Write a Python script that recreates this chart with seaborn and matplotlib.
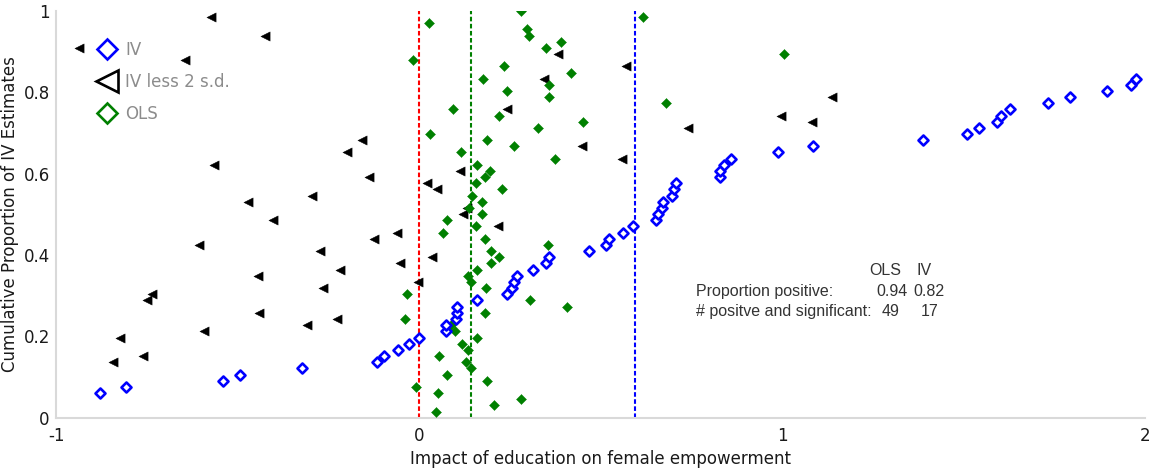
import matplotlib
matplotlib.use("Agg")
import matplotlib.pyplot as plt
from matplotlib.lines import Line2D
import pandas as pd
import seaborn as sns

# IV point estimates and their cumulative proportion
iv_x = [-0.878, -0.806, -0.539, -0.493, -0.323, -0.116, -0.096, -0.057, -0.029, 0.000,
        0.073, 0.073, 0.101, 0.105, 0.105, 0.161, 0.243, 0.257, 0.261, 0.271,
        0.315, 0.349, 0.358, 0.469, 0.515, 0.524, 0.562, 0.590, 0.654, 0.657,
        0.668, 0.673, 0.698, 0.702, 0.707, 0.829, 0.830, 0.840, 0.859, 0.989,
        1.084, 1.388, 1.510, 1.542, 1.592, 1.604, 1.627, 1.734, 1.794, 1.896,
        1.962, 1.974]
iv_y = [0.061, 0.076, 0.091, 0.106, 0.121, 0.136, 0.152, 0.167, 0.182, 0.197,
        0.212, 0.227, 0.242, 0.258, 0.273, 0.288, 0.303, 0.318, 0.333, 0.348,
        0.364, 0.379, 0.394, 0.409, 0.424, 0.439, 0.455, 0.470, 0.485, 0.500,
        0.515, 0.530, 0.545, 0.561, 0.576, 0.591, 0.606, 0.621, 0.636, 0.652,
        0.667, 0.682, 0.697, 0.712, 0.727, 0.742, 0.758, 0.773, 0.788, 0.803,
        0.818, 0.833]

# IV estimate minus two standard deviations
lo_x = [-0.843, -0.761, -0.823, -0.592, -0.309, -0.225, -0.440, -0.750, -0.736, -0.265,
        -0.004, -0.445, -0.219, -0.052, 0.037, -0.274, -0.605, -0.123, -0.061, 0.217,
        -0.403, 0.122, 0.133, -0.470, -0.294, 0.049, 0.021, -0.137, 0.113, -0.566,
        0.558, -0.199, 0.450, -0.158, 0.741, 1.083, 0.998, 0.241, 1.139, 0.345,
        0.569, -0.644, 0.382, -0.938, -0.424, -0.573]
lo_y = [0.136, 0.152, 0.197, 0.212, 0.227, 0.242, 0.258, 0.288, 0.303, 0.318,
        0.333, 0.348, 0.364, 0.379, 0.394, 0.409, 0.424, 0.439, 0.455, 0.470,
        0.485, 0.500, 0.515, 0.530, 0.545, 0.561, 0.576, 0.591, 0.606, 0.621,
        0.636, 0.652, 0.667, 0.682, 0.712, 0.727, 0.742, 0.758, 0.788, 0.833,
        0.864, 0.879, 0.894, 0.909, 0.939, 0.985]

# OLS estimates for the same studies
ols_x = [0.048, 0.207, 0.282, 0.053, -0.008, 0.188, 0.078, 0.143, 0.129, 0.056,
         0.134, 0.117, 0.161, 0.099, 0.087, -0.039, 0.183, 0.407, 0.306, -0.032,
         0.184, 0.143, 0.136, 0.161, 0.198, 0.221, 0.197, 0.354, 0.183, 0.067,
         0.156, 0.077, 0.174, 0.138, 0.173, 0.145, 0.229, 0.156, 0.183, 0.195,
         0.161, 0.375, 0.116, 0.262, 0.188, 0.031, 0.328, 0.452, 0.220, 0.094,
         0.681, 0.357, 0.242, 0.358, 0.177, 0.418, 0.233, -0.017, 1.006, 0.349,
         0.392, 0.304, 0.297, 0.028, 0.616, 0.281]
ols_y = [0.015, 0.030, 0.045, 0.061, 0.076, 0.091, 0.106, 0.121, 0.136, 0.152,
         0.167, 0.182, 0.197, 0.212, 0.227, 0.242, 0.258, 0.273, 0.288, 0.303,
         0.318, 0.333, 0.348, 0.364, 0.379, 0.394, 0.409, 0.424, 0.439, 0.455,
         0.470, 0.485, 0.500, 0.515, 0.530, 0.545, 0.561, 0.576, 0.591, 0.606,
         0.621, 0.636, 0.652, 0.667, 0.682, 0.697, 0.712, 0.727, 0.742, 0.758,
         0.773, 0.788, 0.803, 0.818, 0.833, 0.848, 0.864, 0.879, 0.894, 0.909,
         0.924, 0.939, 0.955, 0.970, 0.985, 1.000]

# reference lines: zero, typical OLS and typical IV estimate
zero_line = 0.0
ols_center = 0.143
iv_center = 0.596

x_ticks = [-1, 0, 1, 2]
y_ticks = [0, 0.2, 0.4, 0.6, 0.8, 1]
y_tick_labels = ["0", "0.2", "0.4", "0.6", "0.8", "1"]

summary_cols = ["OLS", "IV"]
prop_positive = ["0.94", "0.82"]
n_pos_sig = ["49", "17"]

BLUE = "#0000ff"
GREEN = "#008000"
GREY_AXIS = "#d9d9d9"

sns.set_theme(style="white")
plt.rcParams["font.family"] = ["DejaVu Sans"]

fig = plt.figure(figsize=(11.51, 4.68), dpi=100)
ax = fig.add_axes([0.0487, 0.1075, 0.9461, 0.8695])

iv_df = pd.DataFrame({"x": iv_x, "y": iv_y})
lo_df = pd.DataFrame({"x": lo_x, "y": lo_y})
ols_df = pd.DataFrame({"x": ols_x, "y": ols_y})

for xv, col in [(zero_line, "#ff0000"), (ols_center, GREEN), (iv_center, BLUE)]:
    ax.axvline(xv, color=col, lw=1.5, ls=(0, (2.2, 1.2)), zorder=1)

sns.scatterplot(data=lo_df, x="x", y="y", ax=ax, marker="<", s=44,
                color="black", edgecolor="black", linewidth=0.3, zorder=3)
sns.scatterplot(data=ols_df, x="x", y="y", ax=ax, marker="D", s=26,
                color=GREEN, edgecolor=GREEN, linewidth=0.3, zorder=4)
sns.scatterplot(data=iv_df, x="x", y="y", ax=ax, marker="D", s=26,
                facecolor="white", edgecolor=BLUE, linewidth=1.9, zorder=5)

ax.set_xlim(-1, 2)
ax.set_ylim(0, 1)
ax.set_xticks(x_ticks)
ax.set_xticklabels([str(t) for t in x_ticks])
ax.set_yticks(y_ticks)
ax.set_yticklabels(y_tick_labels)

for side in ["top", "right"]:
    ax.spines[side].set_visible(False)
for side in ["left", "bottom"]:
    ax.spines[side].set_color(GREY_AXIS)
    ax.spines[side].set_linewidth(1.5)
ax.tick_params(axis="both", which="both", direction="out", length=3.5, width=1,
               color=GREY_AXIS, labelsize=12, labelcolor="#1a1a1a", pad=1)
ax.tick_params(axis="x", pad=3)

ax.set_xlabel("Impact of education on female empowerment", fontsize=12,
              color="#1a1a1a", labelpad=4)
ax.set_ylabel("Cumulative Proportion of IV Estimates", fontsize=12,
              color="#1a1a1a", labelpad=3)

# summary table in the right half
tfont = dict(family="Liberation Sans", fontsize=11.5, color="#333333", va="center")
ax.text(1.239, 0.361, summary_cols[0], ha="left", **tfont)
ax.text(1.371, 0.361, summary_cols[1], ha="left", **tfont)
ax.text(0.762, 0.310, "Proportion positive:", ha="left", **tfont)
ax.text(1.260, 0.310, prop_positive[0], ha="left", **tfont)
ax.text(1.3625, 0.310, prop_positive[1], ha="left", **tfont)
ax.text(0.762, 0.262, "# positve and significant:", ha="left", **tfont)
ax.text(1.274, 0.262, n_pos_sig[0], ha="left", **tfont)
ax.text(1.382, 0.262, n_pos_sig[1], ha="left", **tfont)

handles = [
    Line2D([], [], ls="none", marker="D", ms=10.5, mfc="none", mec=BLUE, mew=1.9),
    Line2D([], [], ls="none", marker="<", ms=16, mfc="none", mec="black", mew=1.9),
    Line2D([], [], ls="none", marker="D", ms=10.5, mfc="none", mec=GREEN, mew=1.9),
]
leg = ax.legend(handles, ["IV", "IV less 2 s.d.", "OLS"], loc="upper left",
                bbox_to_anchor=(0.0285, 0.943), frameon=False, fontsize=12,
                handletextpad=0.3, labelspacing=0.86, borderaxespad=0.0,
                handlelength=1.6)
for t in leg.get_texts():
    t.set_color("#8c8c8c")

fig.savefig("out.png", dpi=100)
